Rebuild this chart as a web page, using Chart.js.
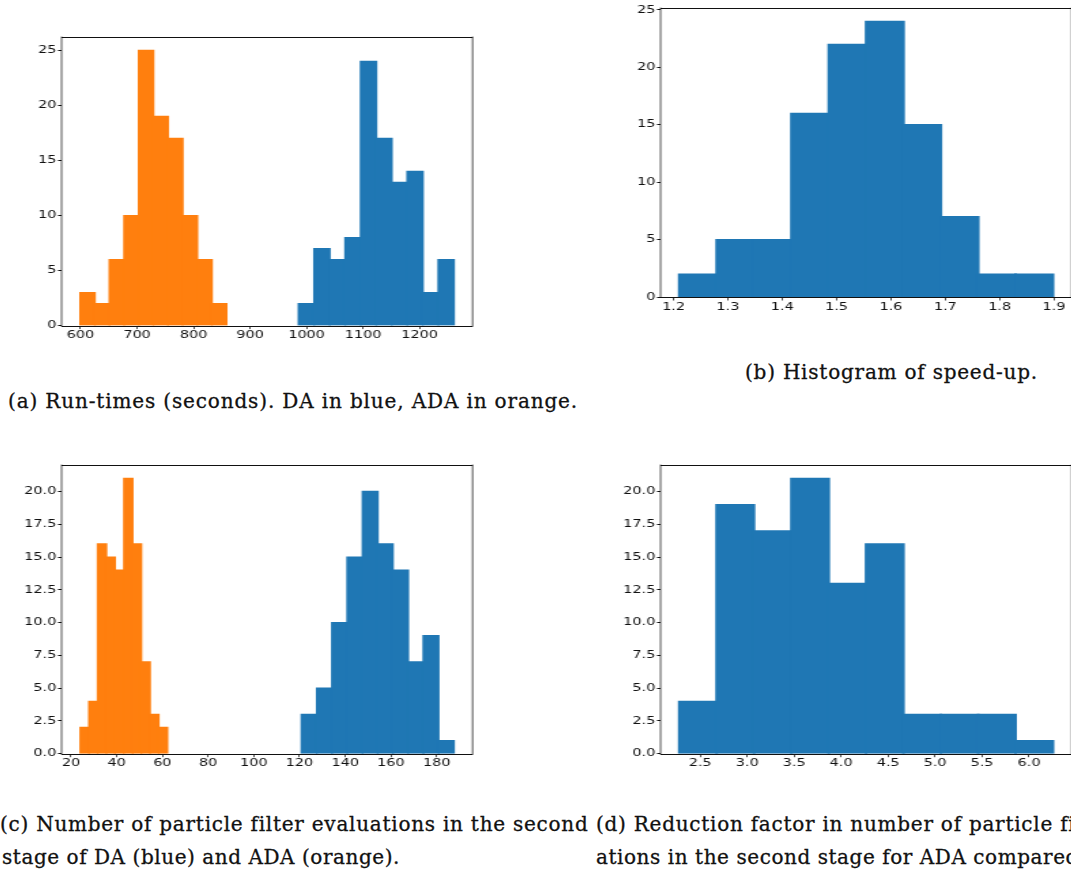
<!DOCTYPE html>
<html>
<head>
<meta charset="utf-8">
<script src="https://cdn.jsdelivr.net/npm/chart.js@4.4.1/dist/chart.umd.min.js"></script>
<style>
html,body{margin:0;padding:0;background:#fff;}
body{width:1071px;height:874px;overflow:hidden;position:relative;}
.wrap{position:absolute;transform-origin:0 0;}
.wrap canvas{display:block;}
.cap{position:absolute;font-family:"DejaVu Serif",serif;font-size:20px;line-height:24px;color:#111;white-space:nowrap;-webkit-text-stroke:0.3px #111;}
</style>
</head>
<body>
<div class="cap" id="capA" style="left:8px;top:389.4px">(a) Run-times (seconds). DA in blue, ADA in orange.</div>
<div class="cap" id="capB" style="left:745px;top:359.6px">(b) Histogram of speed-up.</div>
<div class="cap" id="capC1" style="left:0px;top:812.4px">(c) Number of particle filter evaluations in the second</div>
<div class="cap" id="capC2" style="left:2px;top:845.4px">stage of DA (blue) and ADA (orange).</div>
<div class="cap" id="capD1" style="left:596px;top:812.4px">(d) Reduction factor in number of particle filter evalu-</div>
<div class="cap" id="capD2" style="left:596px;top:845.4px">ations in the second stage for ADA compared to DA.</div>
<script>
// ---------- data (bin centres and counts) ----------
// (a) run-times in seconds
const runtimeBinsDA    = [999.7, 1027.2, 1054.7, 1082.2, 1109.7, 1137.1, 1164.6, 1192.1, 1219.6, 1247.1];
const runtimeCountsDA  = [2, 7, 6, 8, 24, 17, 13, 14, 3, 6];
const runtimeBinsADA   = [612.4, 638.3, 664.2, 690.1, 716.0, 741.9, 767.8, 793.7, 819.5, 845.4];
const runtimeCountsADA = [3, 2, 6, 10, 25, 19, 17, 10, 6, 2];
const runtimeXTicks    = [600, 700, 800, 900, 1000, 1100, 1200];

// (b) speed-up
const speedupBins   = [1.2449, 1.3137, 1.3824, 1.4512, 1.5200, 1.5888, 1.6575, 1.7263, 1.7951, 1.8638];
const speedupCounts = [2, 5, 5, 16, 22, 24, 15, 7, 2, 2];
const speedupXTicks = [1.2, 1.3, 1.4, 1.5, 1.6, 1.7, 1.8, 1.9];

// (c) particle filter evaluations in second stage
const evalsBinsDA    = [124.2, 130.9, 137.5, 144.2, 150.9, 157.5, 164.2, 170.9, 177.5, 184.2];
const evalsCountsDA  = [3, 5, 10, 15, 20, 16, 14, 7, 9, 1];
const evalsBinsADA   = [26.0, 29.8, 33.6, 37.4, 41.2, 45.1, 48.9, 52.7, 56.5, 60.3];
const evalsCountsADA = [2, 4, 16, 15, 14, 21, 16, 7, 3, 2];
const evalsXTicks    = [20, 40, 60, 80, 100, 120, 140, 160, 180];

// (d) reduction factor
const reductionBins   = [2.476, 2.873, 3.271, 3.669, 4.066, 4.464, 4.862, 5.260, 5.657, 6.055];
const reductionCounts = [4, 19, 17, 21, 13, 16, 3, 3, 3, 1];
const reductionXTicks = [2.5, 3.0, 3.5, 4.0, 4.5, 5.0, 5.5, 6.0];

const countTicksA = [0, 5, 10, 15, 20, 25];
const countTicksB = [0, 2.5, 5, 7.5, 10, 12.5, 15, 17.5, 20];

const BLUE = '#1f77b4', ORANGE = '#ff7f0e';

// ---------- layout ----------
const K = 1.36;   // horizontal stretch of the panels
const YW = 46;    // y-axis band width (internal px)
const PT = 6;     // top padding
const XH = 26;    // x-axis band height
const INK = '#111';

const framePlugin = {
  id: 'frame',
  afterDatasetsDraw(chart) {
    const {ctx, chartArea: a} = chart;
    ctx.save();
    ctx.strokeStyle = INK;
    ctx.lineWidth = 1;
    ctx.beginPath();
    ctx.moveTo(a.left, Math.round(a.top) + 0.5); ctx.lineTo(a.right, Math.round(a.top) + 0.5);
    ctx.moveTo(a.left, Math.round(a.bottom) + 0.5); ctx.lineTo(a.right, Math.round(a.bottom) + 0.5);
    ctx.stroke();
    ctx.lineWidth = 1 / K;
    ctx.beginPath();
    ctx.moveTo(a.left, a.top); ctx.lineTo(a.left, a.bottom + 1);
    ctx.moveTo(a.right, a.top); ctx.lineTo(a.right, a.bottom + 1);
    ctx.stroke();
    ctx.restore();
  }
};

function makeHist(p) {
  const wrap = document.createElement('div');
  wrap.className = 'wrap';
  const cw = Math.ceil(YW + p.w / K + 2);
  const ch = Math.ceil(PT + p.h + XH);
  wrap.style.left = (p.left - YW * K) + 'px';
  wrap.style.top = (p.top - PT) + 'px';
  wrap.style.transform = 'scaleX(' + K + ')';
  const cv = document.createElement('canvas');
  cv.width = cw; cv.height = ch;
  cv.style.width = cw + 'px'; cv.style.height = ch + 'px';
  wrap.appendChild(cv);
  document.body.appendChild(wrap);

  const font = {family: '"DejaVu Sans"', size: 10.6};
  const setTicks = arr => (s => { s.ticks = arr.map(v => ({value: v})); });
  const scales = {
    y: {
      type: 'linear', min: 0, max: p.yMax,
      afterBuildTicks: setTicks(p.yTicks),
      afterFit: s => { s.width = YW; },
      grid: {display: true, drawOnChartArea: false, drawTicks: true, tickLength: 2.6, tickColor: INK, tickWidth: 1},
      border: {display: false},
      ticks: {font, color: INK, padding: 1.2, autoSkip: false, callback: v => v.toFixed(p.yDec)}
    }
  };
  p.series.forEach((s, i) => {
    scales['x' + i] = {
      type: 'linear', position: 'bottom', min: p.xMin, max: p.xMax, display: i === 0,
      offset: false,
      afterBuildTicks: setTicks(p.xTicks),
      afterFit: sc => { sc.height = (i === 0) ? XH : 0; },
      grid: {display: true, offset: false, drawOnChartArea: false, drawTicks: true, tickLength: 3.5, tickColor: INK, tickWidth: 1 / K},
      border: {display: false},
      ticks: {font, color: INK, padding: 0, autoSkip: false, maxRotation: 0, callback: v => v.toFixed(p.xDec)}
    };
  });
  new Chart(cv, {
    type: 'bar',
    data: {
      datasets: p.series.map((s, i) => ({
        data: s.bins.map((b, j) => ({x: b, y: s.counts[j]})),
        backgroundColor: s.color,
        borderWidth: 0,
        inflateAmount: 0.6,
        xAxisID: 'x' + i,
        yAxisID: 'y',
        grouped: false,
        barPercentage: 1.03,
        categoryPercentage: 1
      }))
    },
    options: {
      responsive: false, animation: false, events: [],
      layout: {padding: {left: 0, top: PT, right: cw - YW - p.w / K, bottom: ch - PT - p.h - XH}},
      plugins: {legend: {display: false}, tooltip: {enabled: false}},
      scales
    },
    plugins: [framePlugin]
  });
}

makeHist({left: 61.7, top: 34.7, w: 411, h: 290.6, xMin: 566.4, xMax: 1293.9, xTicks: runtimeXTicks, xDec: 0,
  yMax: 26.25, yTicks: countTicksA, yDec: 0,
  series: [{bins: runtimeBinsDA, counts: runtimeCountsDA, color: BLUE}, {bins: runtimeBinsADA, counts: runtimeCountsADA, color: ORANGE}]});
makeHist({left: 661, top: 5.7, w: 411, h: 291, xMin: 1.1761, xMax: 1.9324, xTicks: speedupXTicks, xDec: 1,
  yMax: 25.2, yTicks: countTicksA, yDec: 0,
  series: [{bins: speedupBins, counts: speedupCounts, color: BLUE}]});
makeHist({left: 61.7, top: 463, w: 411, h: 290.7, xMin: 15.9, xMax: 195.7, xTicks: evalsXTicks, xDec: 0,
  yMax: 22.05, yTicks: countTicksB, yDec: 1,
  series: [{bins: evalsBinsDA, counts: evalsCountsDA, color: BLUE}, {bins: evalsBinsADA, counts: evalsCountsADA, color: ORANGE}]});
makeHist({left: 661, top: 463, w: 411, h: 290.7, xMin: 2.078, xMax: 6.452, xTicks: reductionXTicks, xDec: 1,
  yMax: 22.05, yTicks: countTicksB, yDec: 1,
  series: [{bins: reductionBins, counts: reductionCounts, color: BLUE}]});

// ---------- caption fitting (letter spacing to match the reference line lengths) ----------
function fitSpacing(id, target) {
  const el = document.getElementById(id);
  el.style.letterSpacing = '0px';
  const w = el.getBoundingClientRect().width;
  const ls = (target - w) / el.textContent.length;
  el.style.letterSpacing = ls + 'px';
  return ls;
}
fitSpacing('capA', 570);
fitSpacing('capB', 293);
const lsC1 = fitSpacing('capC1', 588);
const lsC2 = fitSpacing('capC2', 398);
document.getElementById('capD1').style.letterSpacing = lsC1 + 'px';
document.getElementById('capD2').style.letterSpacing = lsC2 + 'px';
</script>
</body>
</html>
